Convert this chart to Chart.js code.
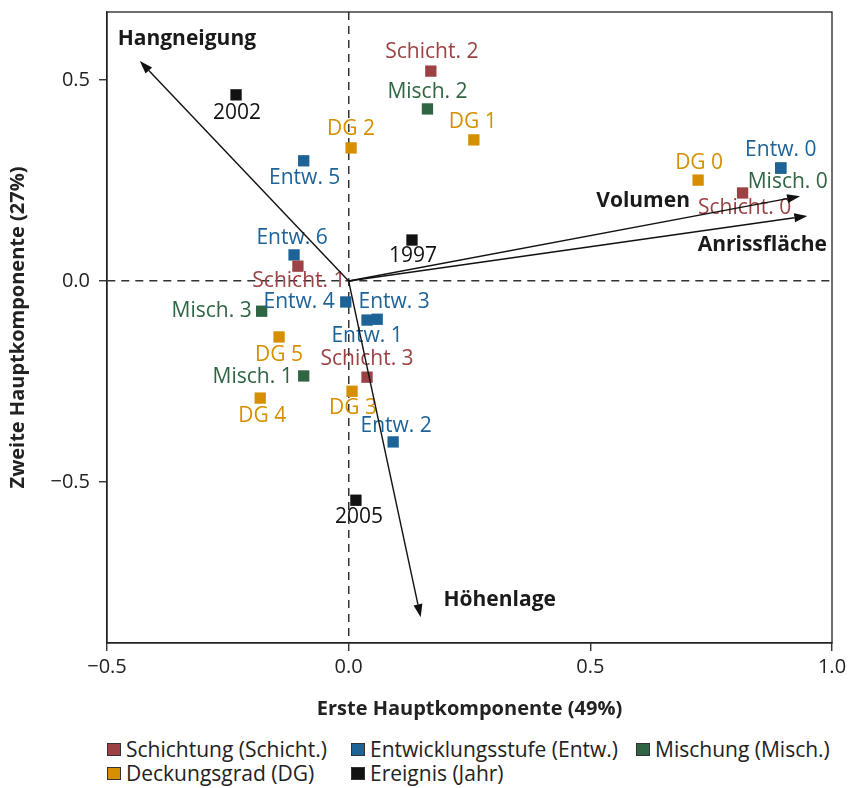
<!DOCTYPE html>
<html>
<head>
<meta charset="utf-8">
<script src="https://cdn.jsdelivr.net/npm/chart.js@4.4.1/dist/chart.umd.min.js"></script>
<style>
  body { margin: 0; background: #fff; }
  #wrap { position: relative; width: 849px; height: 788px; }
  #legend { position: absolute; left: 0; top: 0; font-family: "Open Sans", sans-serif; font-size: 21px; color: #222; }
  .item { position: absolute; display: flex; align-items: center; white-space: nowrap; }
  .box { width: 12px; height: 11px; border: 1px solid #333; margin-right: 5px; }
</style>
</head>
<body>
<div id="wrap">
  <canvas id="pca" width="849" height="723"></canvas>
  <div id="legend"></div>
</div>
<script>
// scores
const schichtLabels = ["Schicht. 0", "Schicht. 1", "Schicht. 2", "Schicht. 3"];
const schichtX = [0.815, -0.105, 0.170, 0.038];
const schichtY = [0.219, 0.037, 0.522, -0.239];

const entwLabels = ["Entw. 0", "Entw. 1", "Entw. 2", "Entw. 3", "Entw. 4", "Entw. 5", "Entw. 6"];
const entwX = [0.894, 0.038, 0.092, 0.059, -0.006, -0.093, -0.113];
const entwY = [0.281, -0.097, -0.400, -0.095, -0.052, 0.299, 0.065];

const mischLabels = ["Misch. 0", "Misch. 1", "Misch. 2", "Misch. 3"];
const mischX = [0.894, -0.093, 0.163, -0.180];
const mischY = [0.281, -0.236, 0.428, -0.075];

const dgLabels = ["DG 0", "DG 1", "DG 2", "DG 3", "DG 4", "DG 5"];
const dgX = [0.723, 0.259, 0.005, 0.007, -0.183, -0.144];
const dgY = [0.251, 0.351, 0.331, -0.274, -0.291, -0.139];

const jahrLabels = ["2002", "1997", "2005"];
const jahrX = [-0.233, 0.131, 0.015];
const jahrY = [0.463, 0.102, -0.545];

// loadings (arrows from origin)
const vectorNames = ["Hangneigung", "Volumen", "Anrissfläche", "Höhenlage"];
const vectorX = [-0.432, 0.934, 0.949, 0.149];
const vectorY = [0.547, 0.211, 0.162, -0.836];

const xTicks = [-0.5, 0.0, 0.5, 1.0];
const yTicks = [-0.5, 0.0, 0.5];

// label placement in pixels relative to the marker: [dx, dy, align]
const labelOffsets = {
  "Schicht. 0": [2, 15], "Schicht. 1": [1, 15], "Schicht. 2": [1, -19], "Schicht. 3": [0, -18],
  "Entw. 0": [0, -18], "Entw. 1": [0, 16], "Entw. 2": [3, -16], "Entw. 3": [17, -17],
  "Entw. 4": [-11, 0, "right"], "Entw. 5": [1, 17], "Entw. 6": [-2, -17],
  "Misch. 0": [7, 14], "Misch. 1": [-11, 1, "right"], "Misch. 2": [0, -17], "Misch. 3": [-10, 0, "right"],
  "DG 0": [1, -17], "DG 1": [-1, -18], "DG 2": [0, -19], "DG 3": [1, 17], "DG 4": [2, 18], "DG 5": [0, 18],
  "2002": [1, 18], "1997": [1, 16], "2005": [3, 17],
};
const vectorLabelOffsets = [[47, -22], [-157, 5], [-45, 29], [79, -17]];

const FONT = "'Open Sans', 'Noto Sans', sans-serif";

function pts(xs, ys) {
  return xs.map((x, i) => ({ x: x, y: ys[i] }));
}

const groups = [
  { name: "Schichtung (Schicht.)", color: "#9c4144", labels: schichtLabels, data: pts(schichtX, schichtY) },
  { name: "Entwicklungsstufe (Entw.)", color: "#1d6398", labels: entwLabels, data: pts(entwX, entwY) },
  { name: "Mischung (Misch.)", color: "#2f6543", labels: mischLabels, data: pts(mischX, mischY) },
  { name: "Deckungsgrad (DG)", color: "#d58f00", labels: dgLabels, data: pts(dgX, dgY) },
  { name: "Ereignis (Jahr)", color: "#121210", labels: jahrLabels, data: pts(jahrX, jahrY) },
];

const fmt = v => (v < 0 ? "\u2212" : "") + Math.abs(v).toFixed(1);

const labelPlugin = {
  id: "pointLabels",
  afterDatasetsDraw(chart) {
    const ctx = chart.ctx;
    ctx.save();
    ctx.font = "21px " + FONT;
    ctx.textBaseline = "middle";
    chart.data.datasets.forEach((ds, di) => {
      const meta = chart.getDatasetMeta(di);
      meta.data.forEach((el, i) => {
        const name = ds.pointNames[i];
        const off = labelOffsets[name] || [0, -17];
        ctx.fillStyle = ds.backgroundColor;
        ctx.textAlign = off[2] || "center";
        ctx.fillText(name, el.x + off[0], el.y + off[1]);
      });
    });
    ctx.restore();
  }
};

const arrowPlugin = {
  id: "arrows",
  afterDatasetsDraw(chart) {
    const { ctx, scales: { x, y }, chartArea } = chart;
    ctx.save();
    // frame
    ctx.strokeStyle = "#222";
    ctx.lineWidth = 1.3;
    ctx.strokeRect(chartArea.left, chartArea.top, chartArea.right - chartArea.left, chartArea.bottom - chartArea.top);

    const ox = x.getPixelForValue(0), oy = y.getPixelForValue(0);
    ctx.font = "bold 21px " + FONT;
    ctx.textAlign = "center";
    ctx.textBaseline = "middle";
    vectorNames.forEach((name, i) => {
      const tx = x.getPixelForValue(vectorX[i]);
      const ty = y.getPixelForValue(vectorY[i]);
      const a = Math.atan2(ty - oy, tx - ox);
      const head = 13, half = 4.5;
      const bx = tx - head * Math.cos(a), by = ty - head * Math.sin(a);
      ctx.strokeStyle = "#111";
      ctx.fillStyle = "#111";
      ctx.lineWidth = 1.4;
      ctx.beginPath();
      ctx.moveTo(ox, oy);
      ctx.lineTo(bx, by);
      ctx.stroke();
      ctx.beginPath();
      ctx.moveTo(tx, ty);
      ctx.lineTo(bx + half * Math.sin(a), by - half * Math.cos(a));
      ctx.lineTo(bx - half * Math.sin(a), by + half * Math.cos(a));
      ctx.closePath();
      ctx.fill();
      const off = vectorLabelOffsets[i];
      ctx.fillStyle = "#1a1a1a";
      ctx.fillText(name, tx + off[0], ty + off[1]);
    });
    ctx.restore();
  }
};

const zeroGrid = c => (c.tick && c.tick.value === 0 ? "#333" : "rgba(0,0,0,0)");

const chart = new Chart(document.getElementById("pca"), {
  type: "scatter",
  data: {
    datasets: groups.map(g => ({
      label: g.name,
      data: g.data,
      pointNames: g.labels,
      backgroundColor: g.color,
      borderWidth: 0,
      pointStyle: "rect",
      pointRadius: 8,
      pointHoverRadius: 8,
    })),
  },
  options: {
    responsive: false,
    animation: false,
    layout: { padding: { top: 12, right: 17, left: 0, bottom: 0 } },
    plugins: { legend: { display: false }, tooltip: { enabled: false } },
    scales: {
      x: {
        type: "linear",
        min: -0.5,
        max: 1.0,
        afterBuildTicks: s => { s.ticks = xTicks.map(v => ({ value: v })); },
        afterFit: s => { s.height = 80; s.paddingLeft = 0; s.paddingRight = 0; },
        ticks: { callback: fmt, padding: 4, color: "#222", font: { family: FONT, size: 20 } },
        grid: { color: zeroGrid, lineWidth: 1.5, tickColor: "#222", tickLength: 8, tickWidth: 1.3 },
        border: { color: "#222", width: 1.3, dash: [8, 6] },
        title: { display: true, text: "Erste Hauptkomponente (49%)", color: "#222",
                 font: { family: FONT, size: 20, weight: "bold" }, padding: { top: 4, bottom: 2 } },
      },
      y: {
        type: "linear",
        min: -0.9,
        max: 0.669,
        afterBuildTicks: s => { s.ticks = yTicks.map(v => ({ value: v })); },
        afterFit: s => { s.width = 107; s.paddingTop = 0; s.paddingBottom = 0; },
        ticks: { callback: fmt, padding: 9, color: "#222", font: { family: FONT, size: 20 } },
        grid: { color: zeroGrid, lineWidth: 1.5, tickColor: "#222", tickLength: 8, tickWidth: 1.3 },
        border: { color: "#222", width: 1.3, dash: [8, 6] },
        title: { display: true, text: "Zweite Hauptkomponente (27%)", color: "#222",
                 font: { family: FONT, size: 20, weight: "bold" }, padding: { top: 6, bottom: 4 } },
      },
    },
  },
  plugins: [labelPlugin, arrowPlugin],
});

// legend in a fixed grid under the chart
const legendCols = [107, 351, 636];
const legendRows = [749, 773];
const legend = document.getElementById("legend");
chart.data.datasets.forEach((ds, i) => {
  const item = document.createElement("div");
  item.className = "item";
  item.style.left = legendCols[i % 3] + "px";
  item.style.top = (legendRows[Math.floor(i / 3)] - 14) + "px";
  item.style.height = "28px";
  const box = document.createElement("span");
  box.className = "box";
  box.style.background = ds.backgroundColor;
  const txt = document.createElement("span");
  txt.textContent = ds.label;
  item.appendChild(box);
  item.appendChild(txt);
  legend.appendChild(item);
});
</script>
</body>
</html>
